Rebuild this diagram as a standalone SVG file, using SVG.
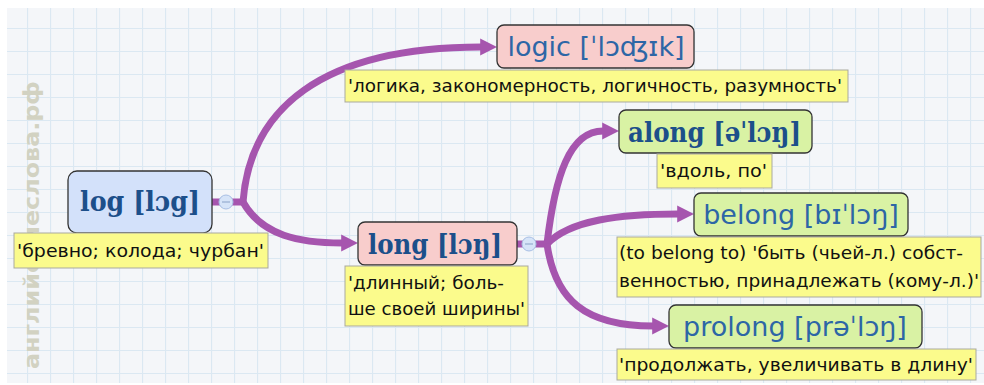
<svg xmlns="http://www.w3.org/2000/svg" width="984" height="385" viewBox="0 0 984 385">
<defs>
<pattern id="grid" x="4" y="5" width="23" height="23" patternUnits="userSpaceOnUse">
<rect width="23" height="23" fill="#f4f6f9"/>
<path d="M0 0.5H23M0.5 0V23" stroke="#dbe8f2" stroke-width="1.2" fill="none"/>
</pattern>
<marker id="arr" viewBox="0 0 10 10" refX="0.5" refY="5" markerWidth="2.4" markerHeight="2.7" orient="auto" markerUnits="strokeWidth">
<path d="M0 0L10 5L0 10z" fill="#a655ae"/>
</marker>
<style>
.node{stroke:#333;stroke-width:1.3}
.blue{fill:#d3e1fa}
.pink{fill:#f8cdcc}
.green{fill:#d9f2a4}
.note{fill:#fbfb8c;stroke:#a9a9a0;stroke-width:1}
.nt{font-family:"DejaVu Sans","Liberation Sans",sans-serif;font-size:17px;fill:#111}
.tb{font-family:"DejaVu Serif","Liberation Serif",serif;font-weight:bold;fill:#1c4f8a;font-size:28px}
.tl{font-family:"DejaVu Sans","Liberation Sans",sans-serif;fill:#2d66a6;text-anchor:middle}
.conn{fill:none;stroke:#a655ae;stroke-width:7;stroke-linecap:butt}
.col{fill:#d6e4f8;stroke:#a8bfe4;stroke-width:1}
.minus{stroke:#8aa2c8;stroke-width:1}
</style>
</defs>
<rect width="984" height="385" fill="#ffffff"/>
<rect x="7" y="8" width="977" height="375" fill="url(#grid)"/>
<text transform="translate(39,369) rotate(-90)" font-family="DejaVu Sans,Liberation Sans,sans-serif" font-weight="bold" font-size="22" fill="#d2d2c2" textLength="288" lengthAdjust="spacingAndGlyphs">английскиеслова.рф</text>

<g id="connectors">
<path class="conn" d="M212 202H245"/>
<path class="conn" marker-end="url(#arr)" d="M243 202C250 110 320 47 481 47"/>
<path class="conn" marker-end="url(#arr)" d="M243 202C262 236 300 243 342 243"/>
<path class="conn" d="M517 244H548"/>
<path class="conn" marker-end="url(#arr)" d="M547 244C555 175 570 131 603 131"/>
<path class="conn" marker-end="url(#arr)" d="M547 244C570 220 620 214 678 214"/>
<path class="conn" marker-end="url(#arr)" d="M547 244C555 300 585 326 653 326"/>
</g>

<g id="log">
<rect class="node blue" x="68" y="171" width="144" height="62" rx="9"/>
<text class="tb" x="80" y="211" textLength="120" lengthAdjust="spacingAndGlyphs">log [lɔg]</text>
<circle class="col" cx="226" cy="202" r="7"/>
<path class="minus" d="M222 202H230"/>
<rect class="note" x="14" y="233" width="254" height="35"/>
<text class="nt" x="17" y="257" textLength="247" lengthAdjust="spacingAndGlyphs">'бревно; колода; чурбан'</text>
</g>

<g id="logic">
<rect class="node pink" x="497" y="25" width="197" height="43" rx="7"/>
<text class="tl" x="596" y="56" font-size="27">logic [ˈlɔʤɪk]</text>
<rect class="note" x="345" y="70" width="503" height="32"/>
<text class="nt" x="348" y="92" textLength="494" lengthAdjust="spacingAndGlyphs">'логика, закономерность, логичность, разумность'</text>
</g>

<g id="long">
<rect class="node pink" x="358" y="222" width="159" height="43" rx="7"/>
<text class="tb" x="368" y="254" textLength="134" lengthAdjust="spacingAndGlyphs">long [lɔŋ]</text>
<circle class="col" cx="529" cy="244" r="7"/>
<path class="minus" d="M525 244H533"/>
<rect class="note" x="345" y="266" width="183" height="60"/>
<text class="nt" x="348" y="289" textLength="156" lengthAdjust="spacingAndGlyphs">'длинный; боль-</text>
<text class="nt" x="348" y="315" textLength="177" lengthAdjust="spacingAndGlyphs">ше своей ширины'</text>
</g>

<g id="along">
<rect class="node green" x="619" y="110" width="193" height="43" rx="7"/>
<text class="tb" x="628" y="142" textLength="173" lengthAdjust="spacingAndGlyphs">along [əˈlɔŋ]</text>
<rect class="note" x="657" y="154" width="115" height="34"/>
<text class="nt" x="660" y="177" textLength="107" lengthAdjust="spacingAndGlyphs">'вдоль, по'</text>
</g>

<g id="belong">
<rect class="node green" x="694" y="193" width="214" height="43" rx="7"/>
<text class="tl" x="801" y="224" font-size="27">belong [bɪˈlɔŋ]</text>
<rect class="note" x="617" y="237" width="364" height="60"/>
<text class="nt" x="619" y="259" textLength="344" lengthAdjust="spacingAndGlyphs">(to belong to) 'быть (чьей-л.) собст-</text>
<text class="nt" x="619" y="287" textLength="360" lengthAdjust="spacingAndGlyphs">венностью, принадлежать (кому-л.)'</text>
</g>

<g id="prolong">
<rect class="node green" x="669" y="305" width="253" height="43" rx="7"/>
<text class="tl" x="795" y="336" font-size="27">prolong [prəˈlɔŋ]</text>
<rect class="note" x="617" y="349" width="359" height="31"/>
<text class="nt" x="619" y="371" textLength="354" lengthAdjust="spacingAndGlyphs">'продолжать, увеличивать в длину'</text>
</g>
</svg>
